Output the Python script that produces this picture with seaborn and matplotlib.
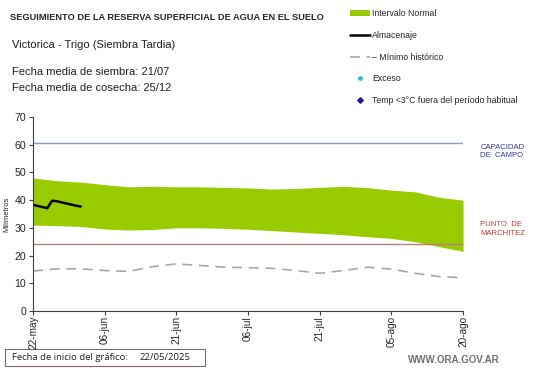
import numpy as np
import pandas as pd
import seaborn as sns
import matplotlib.pyplot as plt
from matplotlib.patches import Patch, Rectangle
from matplotlib.lines import Line2D

sns.set_theme(style='ticks')
plt.rcParams['font.family'] = ['Liberation Sans', 'DejaVu Sans']

# dias desde 22-may, cada 5 dias
dias = [0, 5, 10, 15, 20, 25, 30, 35, 40, 45, 50, 55, 60, 65, 70, 75, 80, 85, 90]
normal_sup = [48.0, 47.0, 46.5, 45.6, 44.8, 45.0, 44.8, 44.8, 44.6, 44.4, 44.0, 44.2,
              44.6, 45.0, 44.5, 43.6, 43.0, 41.0, 40.0]
normal_inf = [31.0, 30.8, 30.5, 29.6, 29.2, 29.4, 30.0, 30.0, 29.8, 29.5, 29.0, 28.5,
              28.0, 27.5, 26.8, 26.2, 25.0, 23.2, 21.5]
minimo = [14.4, 15.2, 15.2, 14.6, 14.3, 16.0, 17.0, 16.4, 15.8, 15.6, 15.4, 14.6,
          13.6, 14.6, 15.8, 15.1, 13.6, 12.4, 12.0]

dias_alm = [0, 1, 2, 3, 4, 5, 6, 7, 8, 9, 10]
almacenaje = [38.3, 37.9, 37.5, 37.1, 39.8, 39.6, 39.2, 38.8, 38.4, 38.0, 37.7]

capacidad_campo = 60.5
punto_marchitez = 24.3

tick_dias = [0, 15, 30, 45, 60, 75, 90]
tick_labels = ['22-may', '06-jun', '21-jun', '06-jul', '21-jul', '05-ago', '20-ago']

df_norm = pd.DataFrame({'dia': dias, 'sup': normal_sup, 'inf': normal_inf, 'min': minimo})
df_alm = pd.DataFrame({'dia': dias_alm, 'alm': almacenaje})

fig = plt.figure(figsize=(5.41, 3.68), dpi=100)
ax = fig.add_axes([0.061, 0.155, 0.795, 0.527])

ax.fill_between(df_norm['dia'], df_norm['inf'], df_norm['sup'], color='#99cc00', lw=0)
ax.axhline(capacidad_campo, color='#8a9cc4', lw=1)
ax.axhline(punto_marchitez, color='#b88080', lw=1)
sns.lineplot(data=df_norm, x='dia', y='min', ax=ax, color='#a8a8a8', lw=1.2,
             dashes=False, linestyle=(0, (6, 4)))
sns.lineplot(data=df_alm, x='dia', y='alm', ax=ax, color='black', lw=1.8)

ax.set_xlim(0, 90)
ax.set_ylim(0, 70)
ax.set_yticks(range(0, 71, 10))
ax.set_xticks(tick_dias)
ax.set_xticklabels(tick_labels, rotation=90)
ax.tick_params(axis='y', labelsize=7.6, length=3, width=0.8, color='#404040', pad=2)
ax.tick_params(axis='x', labelsize=7.2, length=3, width=0.8, color='#404040', pad=0.5)
ax.set_xlabel('')
ax.set_ylabel('Milímetros', fontsize=5.5, labelpad=3)
for s in ['top', 'right']:
    ax.spines[s].set_visible(False)
for s in ['left', 'bottom']:
    ax.spines[s].set_color('#404040')
    ax.spines[s].set_linewidth(0.8)

ax.text(1.04, capacidad_campo - 0.1, 'CAPACIDAD\nDE  CAMPO', transform=ax.get_yaxis_transform(),
        color='#3a3aa0', fontsize=5.6, va='top', ha='left', linespacing=1.25)
ax.text(1.04, punto_marchitez + 8, 'PUNTO  DE\nMARCHITEZ', transform=ax.get_yaxis_transform(),
        color='#c03838', fontsize=5.6, va='top', ha='left', linespacing=1.25)

fig.text(10 / 541, 1 - 17 / 368, 'SEGUIMIENTO DE LA RESERVA SUPERFICIAL DE AGUA EN EL SUELO',
         fontsize=6.7, fontweight='bold', va='center')
fig.text(12 / 541, 1 - 45 / 368, 'Victorica - Trigo (Siembra Tardia)', fontsize=8.0, va='center',
         color='#202020')
fig.text(12 / 541, 1 - 72 / 368, 'Fecha media de siembra: 21/07', fontsize=8.0, va='center',
         color='#202020')
fig.text(12 / 541, 1 - 88 / 368, 'Fecha media de cosecha: 25/12', fontsize=8.0, va='center',
         color='#202020')

handles = [
    Patch(facecolor='#99cc00', edgecolor='none'),
    Line2D([], [], color='black', lw=1.8),
    Line2D([], [], color='#a8a8a8', lw=1.2, linestyle=(0, (6, 4))),
    Line2D([], [], color='#33c0d0', lw=0, marker='o', markersize=2.5),
    Line2D([], [], color='#1a1a9a', lw=0, marker='D', markersize=2.8),
]
labels = ['Intervalo Normal', 'Almacenaje', '– Mínimo histórico', 'Exceso',
          'Temp <3°C fuera del período habitual']
fig.legend(handles, labels, loc='upper left', bbox_to_anchor=(344 / 541, 1 - 3 / 368),
           frameon=False, fontsize=6.3, handlelength=2.3, handleheight=0.6,
           handletextpad=0.2, labelspacing=1.45, borderpad=0.2)

box = Rectangle((5 / 541, 1 - 366 / 368), 200 / 541, 17 / 368, transform=fig.transFigure,
                facecolor='white', edgecolor='#7a6a6a', lw=0.8, zorder=-1)
fig.add_artist(box)
fig.text(12 / 541, 1 - 357 / 368, 'Fecha de inicio del gráfico:', fontsize=6.8, va='center',
         family=['Open Sans', 'DejaVu Sans'], color='#202020')
fig.text(140 / 541, 1 - 357 / 368, '22/05/2025', fontsize=6.8, va='center',
         family=['Open Sans', 'DejaVu Sans'], color='#202020')
fig.text(500 / 541, 1 - 360 / 368, 'WWW.ORA.GOV.AR', fontsize=7, color='#707070',
         fontweight='bold', ha='right', va='center')

fig.savefig('out.png', dpi=100)
